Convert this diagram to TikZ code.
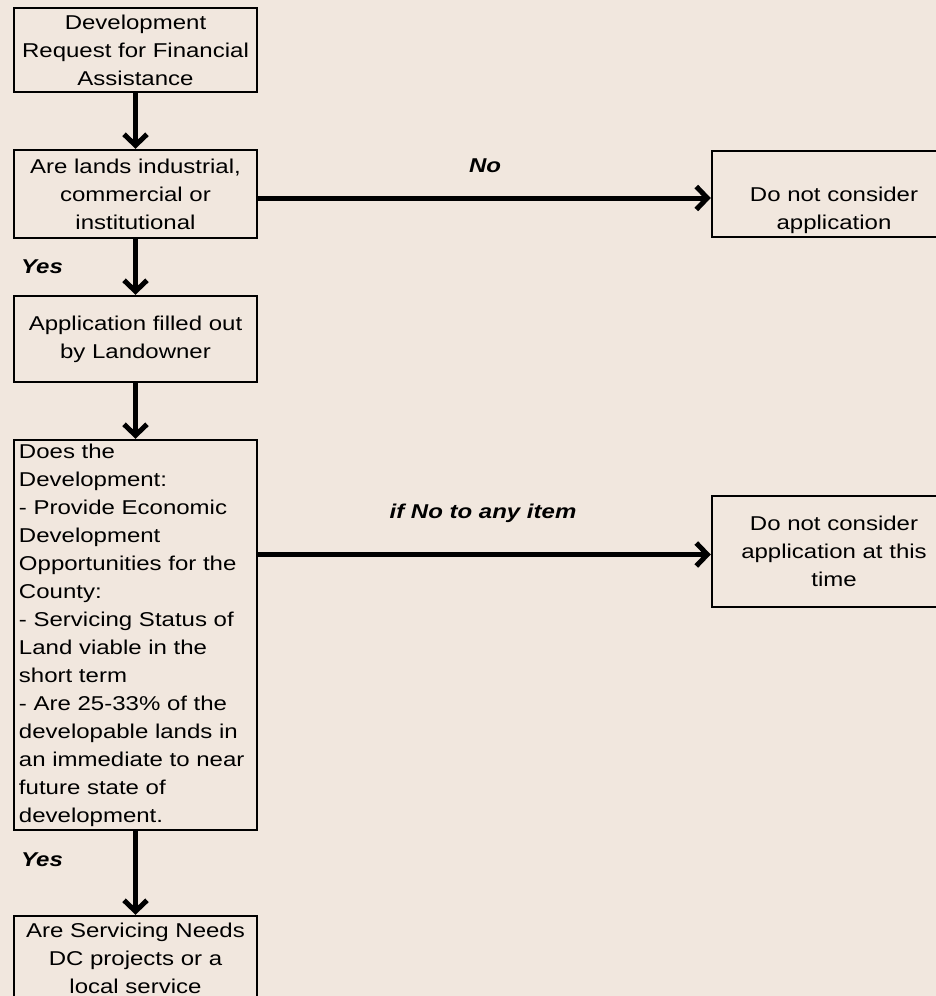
\documentclass[tikz,border=0pt]{standalone}
\usepackage{fontspec}
\setmainfont{Liberation Sans}[FakeStretch=1.2]
\usetikzlibrary{arrows.meta}
\definecolor{bg}{RGB}{241,231,222}
\tikzset{
  box/.style={draw=black, line width=2.5pt, rectangle, inner sep=0pt, minimum width=243, align=center, font=\fontsize{20}{28}\selectfont, text=black},
  lbl/.style={font=\fontsize{20}{24}\selectfont\bfseries\itshape, inner sep=0pt},
  flow/.style={line width=5pt, -{Straight Barb[length=11pt,width=23pt,line join=miter]}}
}
\begin{document}
\begin{tikzpicture}[x=1pt,y=-1pt]
\useasboundingbox (0,0) rectangle (936,996);
\fill[bg] (0,0) rectangle (936,996);
\clip (0,0) rectangle (936,996);

\node[box, minimum height=84] (b1) at (135.5,50) {Development\\Request for Financial\\Assistance};
\node[box, minimum height=88] (b2) at (135.5,194) {Are lands industrial,\\commercial or\\institutional};
\node[box, minimum height=86] (b3) at (135.5,339) {Application filled out\\by Landowner};
\node[box, minimum height=390, align=left, text width=233, inner xsep=5pt] (b4) at (135.5,635) {Does the\\Development:\\- Provide Economic\\Development\\Opportunities for the\\County:\\- Servicing Status of\\Land viable in the\\short term\\- Are 25-33\% of the\\developable lands in\\an immediate to near\\future state of\\development.};
\node[box, minimum height=84] (b5) at (135.5,958) {Are Servicing Needs\\DC projects or a\\local service};

\node[box, minimum width=244, minimum height=86] (ra) at (834,194) {\strut\\Do not consider\\application};
\node[box, minimum width=244, minimum height=111] (rb) at (834,551.5) {Do not consider\\application at this\\time};

\draw[flow] (b1) -- (b2);
\draw[flow] (b2) -- (b3);
\draw[flow] (b3) -- (b4);
\draw[flow] (b4) -- (b5);
\draw[flow] ([yshift=-4]b2.east) -- ([yshift=-4]ra.west);
\draw[flow] ([yshift=-3]b4.east |- rb.west) -- ([yshift=-3]rb.west);

\node[lbl] (no) at (485,166) {No};
\node[lbl] (ifno) at (483,513) {if No to any item};
\node[lbl] (yes1) at (42,267) {Yes};
\node[lbl] (yes2) at (42,860) {Yes};
\end{tikzpicture}
\end{document}
